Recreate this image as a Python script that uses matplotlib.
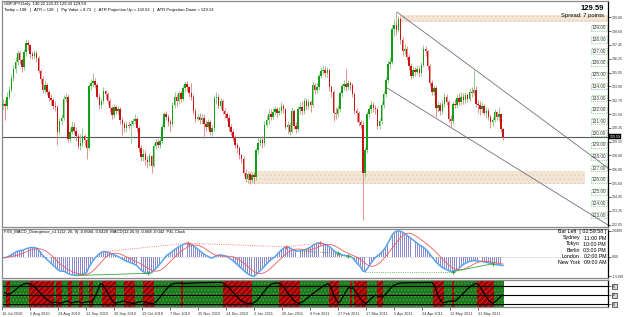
#GBPJPY daily chart in the style of the MT4 screenshot
import numpy as np
import pandas as pd
import matplotlib
matplotlib.use('Agg')
import matplotlib.pyplot as plt
import matplotlib.transforms as mtrans
from matplotlib.patches import Rectangle

plt.rcParams['font.family'] = 'Liberation Sans'
plt.rcParams['hatch.linewidth'] = 0.4

#daily bars (16 Jul 2010 .. 8 Jun 2011)
close = [132.4, 132.2, 133.0, 133.6, 134.6, 135.4, 136.0, 136.7, 136.1, 135.5,
         136.8, 137.6, 137.4, 136.6, 136.5, 136.7, 136.3, 135.2, 134.5, 133.6,
         134.0, 133.4, 132.9, 132.7, 132.2, 132.1, 130.0, 130.9, 131.2, 132.8,
         133.0, 129.4, 130.0, 130.4, 130.1, 129.6, 128.8, 129.0, 129.6, 129.3,
         128.6, 133.9, 134.2, 134.3, 134.0, 133.0, 132.3, 132.6, 133.5, 133.2,
         132.6, 132.0, 131.4, 132.1, 131.8, 131.9, 131.0, 130.7, 130.3, 130.6,
         130.5, 130.7, 130.9, 131.1, 130.3, 128.6, 127.8, 128.1, 127.6, 127.4,
         127.9, 127.1, 128.8, 129.1, 128.9, 129.2, 130.4, 131.5, 131.3, 130.8,
         130.7, 132.3, 133.0, 132.6, 133.3, 132.8, 133.7, 134.1, 133.8, 133.3,
         133.0, 131.8, 131.1, 131.3, 131.0, 131.2, 130.7, 130.4, 130.8, 130.0,
         130.3, 132.9, 133.0, 132.2, 132.6, 131.8, 131.5, 131.2, 130.4, 130.0,
         129.5, 128.9, 128.6, 128.0, 127.7, 126.5, 126.0, 126.4, 125.9, 126.3,
         126.1, 128.4, 129.0, 129.3, 129.0, 130.6, 131.0, 131.5, 131.3, 131.7,
         131.9, 131.6, 131.8, 132.2, 131.9, 130.4, 130.6, 130.0, 131.8, 130.5,
         130.2, 131.9, 132.1, 131.8, 132.6, 132.2, 132.5, 132.3, 134.0, 133.6,
         133.8, 134.8, 135.2, 135.3, 135.0, 135.3, 133.8, 133.4, 131.6, 131.5,
         131.9, 133.3, 133.9, 134.1, 133.8, 134.2, 134.0, 133.2, 131.8, 131.6,
         130.8, 130.6, 126.5, 128.4, 131.5, 131.9, 132.3, 132.0, 131.9, 130.5,
         130.9, 132.3, 133.2, 134.4, 135.8, 136.0, 138.8, 139.1, 138.7, 139.6,
         137.8, 136.9, 137.1, 136.4, 135.6, 134.8, 135.3, 135.1, 135.4, 135.0,
         135.7, 137.1, 136.9, 135.6, 134.2, 133.4, 133.7, 132.0, 132.3, 131.8,
         132.4, 133.0, 132.5, 131.1, 130.9, 132.4, 132.3, 132.9, 132.5, 133.0,
         132.7, 133.1, 132.8, 133.4, 133.3, 133.6, 132.4, 132.3, 131.9, 132.2,
         131.6, 131.8, 131.3, 130.8, 131.0, 131.7, 131.3, 131.5, 130.2, 129.59]
high = [132.8, 132.7, 133.4, 133.9, 134.9, 135.7, 136.4, 137.0, 136.9, 136.3,
        137.1, 137.9, 137.8, 137.5, 136.9, 137.0, 136.9, 136.5, 135.4, 134.8,
        134.4, 134.2, 133.6, 133.2, 132.9, 132.6, 132.3, 131.2, 131.5, 133.1,
        133.3, 133.2, 130.3, 130.9, 130.8, 130.4, 129.9, 129.8, 130.3, 129.8,
        129.5, 134.1, 134.5, 135.0, 134.6, 134.2, 133.3, 132.9, 133.8, 133.6,
        133.4, 132.9, 132.2, 132.4, 132.3, 132.2, 132.1, 131.3, 130.9, 130.9,
        130.9, 131.0, 131.2, 131.5, 131.3, 130.5, 128.9, 128.5, 128.4, 127.9,
        128.2, 128.0, 129.0, 129.4, 129.4, 129.5, 130.7, 131.7, 131.8, 131.5,
        131.1, 132.5, 133.4, 133.2, 133.5, 133.5, 134.0, 134.3, 134.3, 133.9,
        134.2, 133.2, 132.0, 131.6, 131.6, 131.5, 131.5, 131.0, 131.1, 131.0,
        130.6, 133.1, 133.4, 133.2, 132.9, 132.8, 132.0, 131.7, 131.4, 130.7,
        130.2, 129.7, 129.0, 128.8, 128.2, 127.9, 126.8, 126.6, 126.6, 126.5,
        126.6, 128.6, 129.5, 129.6, 129.6, 130.9, 131.4, 131.9, 131.9, 132.0,
        132.2, 132.1, 132.1, 132.5, 132.4, 132.0, 130.9, 130.8, 132.1, 131.9,
        130.8, 132.2, 132.5, 132.6, 132.9, 132.9, 132.8, 132.7, 134.3, 134.2,
        134.2, 135.0, 135.5, 135.6, 135.6, 135.5, 135.4, 134.0, 133.6, 132.1,
        132.3, 133.5, 134.2, 134.4, 135.4, 134.4, 134.3, 134.2, 133.4, 132.0,
        131.8, 131.0, 130.9, 128.7, 131.8, 132.2, 132.6, 132.5, 132.3, 132.1,
        131.2, 132.6, 133.5, 134.7, 136.1, 136.4, 139.1, 139.6, 140.2, 139.9,
        139.8, 138.1, 137.5, 137.3, 136.6, 135.9, 135.6, 135.5, 135.7, 135.6,
        136.0, 137.4, 137.3, 137.0, 135.8, 134.4, 134.0, 133.9, 132.6, 132.5,
        132.7, 133.3, 133.2, 132.7, 131.4, 132.6, 132.8, 133.2, 133.3, 133.4,
        133.3, 133.4, 133.3, 133.7, 133.8, 135.3, 133.9, 132.7, 132.6, 132.5,
        132.4, 132.1, 132.0, 131.5, 131.3, 131.9, 131.8, 132.1, 131.6, 130.33]
low = [131.9, 131.0, 131.9, 132.8, 133.4, 134.3, 135.0, 135.7, 135.8, 135.1,
       135.3, 136.5, 137.0, 136.3, 136.2, 136.3, 136.0, 135.0, 134.1, 133.3,
       133.3, 133.1, 132.6, 132.3, 131.9, 131.8, 128.9, 129.8, 130.6, 131.0,
       132.5, 129.1, 129.1, 129.8, 129.8, 129.2, 128.5, 128.4, 128.7, 128.8,
       127.7, 128.4, 133.6, 133.8, 133.7, 132.8, 131.9, 132.0, 132.4, 132.8,
       132.3, 131.7, 131.1, 131.2, 131.5, 131.5, 130.7, 129.7, 130.0, 130.0,
       130.2, 129.0, 130.5, 130.7, 130.0, 128.3, 127.5, 127.5, 127.2, 126.9,
       127.1, 126.5, 127.0, 128.5, 128.6, 128.6, 129.0, 130.2, 131.0, 130.5,
       130.0, 130.5, 132.0, 132.2, 132.4, 132.5, 132.6, 133.4, 133.5, 133.0,
       132.7, 131.5, 130.8, 130.9, 130.7, 130.7, 129.5, 130.1, 130.2, 129.7,
       129.6, 130.1, 132.4, 132.0, 131.9, 131.5, 131.2, 130.9, 130.1, 129.7,
       129.2, 128.6, 128.2, 127.7, 127.3, 126.2, 125.7, 125.6, 125.5, 125.7,
       125.6, 125.9, 128.1, 128.8, 128.6, 128.8, 130.4, 130.7, 131.0, 131.1,
       131.4, 131.3, 131.4, 131.6, 131.6, 130.2, 129.8, 129.7, 129.9, 130.2,
       129.9, 130.0, 131.5, 131.4, 131.5, 131.9, 131.9, 131.7, 132.1, 133.2,
       133.3, 133.6, 134.6, 134.9, 134.7, 134.7, 133.5, 133.0, 130.9, 131.1,
       131.3, 131.7, 133.0, 133.6, 133.5, 133.6, 133.6, 133.0, 131.5, 130.8,
       130.5, 130.2, 122.45, 126.1, 128.2, 131.2, 131.6, 131.7, 131.5, 130.2,
       130.2, 130.7, 132.0, 133.0, 134.2, 135.4, 135.8, 138.2, 138.3, 138.5,
       137.5, 136.5, 136.6, 136.1, 135.3, 134.5, 134.6, 134.8, 134.9, 134.7,
       134.8, 135.5, 136.5, 135.3, 133.9, 133.1, 133.1, 131.3, 131.7, 131.4,
       131.5, 132.1, 132.3, 130.8, 130.4, 130.7, 132.0, 132.0, 132.3, 132.3,
       132.4, 132.4, 132.5, 132.6, 133.0, 133.1, 132.1, 131.6, 131.4, 131.6,
       131.4, 131.2, 131.0, 130.3, 130.5, 130.8, 131.0, 130.9, 130.0, 129.33]
first_open = 132.3

#macd main line
macd = [-0.05, -0.05, 0.0, 0.08, 0.18, 0.28, 0.38, 0.46, 0.50, 0.52,
        0.56, 0.64, 0.70, 0.74, 0.75, 0.74, 0.70, 0.55, 0.35, 0.12,
        -0.05, -0.2, -0.35, -0.5, -0.65, -0.8, -0.98, -1.08, -1.12, -1.12,
        -1.18, -1.3, -1.36, -1.40, -1.43, -1.45, -1.44, -1.40, -1.34, -1.27,
        -1.22, -0.85, -0.55, -0.3, -0.08, 0.1, 0.25, 0.36, 0.42, 0.42,
        0.38, 0.32, 0.25, 0.18, 0.12, 0.04, -0.05, -0.15, -0.25, -0.33,
        -0.40, -0.46, -0.52, -0.58, -0.68, -0.85, -1.02, -1.15, -1.24, -1.28,
        -1.26, -1.22, -1.08, -0.92, -0.75, -0.55, -0.35, -0.12, 0.08, 0.22,
        0.32, 0.45, 0.58, 0.68, 0.80, 0.88, 0.96, 1.04, 1.08, 1.07,
        1.0, 0.88, 0.75, 0.62, 0.48, 0.36, 0.24, 0.12, 0.05, -0.05,
        -0.08, 0.02, 0.1, 0.14, 0.16, 0.14, 0.1, 0.04, -0.06, -0.18,
        -0.3, -0.45, -0.6, -0.75, -0.9, -1.05, -1.2, -1.32, -1.42, -1.49,
        -1.52, -1.38, -1.22, -1.06, -0.9, -0.72, -0.55, -0.38, -0.22, -0.1,
        0.02, 0.2, 0.38, 0.55, 0.68, 0.78, 0.80, 0.72, 0.62, 0.55,
        0.48, 0.46, 0.48, 0.52, 0.56, 0.62, 0.7, 0.78, 0.9, 1.0,
        1.08, 1.1, 1.1, 1.05, 0.98, 0.9, 0.8, 0.68, 0.52, 0.4,
        0.3, 0.22, 0.16, 0.12, 0.1, 0.08, 0.05, -0.05, -0.25, -0.45,
        -0.62, -0.8, -1.1, -1.15, -0.95, -0.7, -0.45, -0.25, -0.05, 0.1,
        0.22, 0.38, 0.55, 0.8, 1.1, 1.4, 1.72, 1.92, 2.03, 2.05,
        2.02, 1.95, 1.85, 1.72, 1.6, 1.45, 1.32, 1.2, 1.08, 0.95,
        0.85, 0.76, 0.62, 0.45, 0.22, 0.0, -0.18, -0.38, -0.55, -0.7,
        -0.82, -0.92, -1.0, -1.08, -1.12, -1.15, -1.12, -1.02, -0.88, -0.72,
        -0.6, -0.5, -0.42, -0.35, -0.3, -0.28, -0.3, -0.32, -0.33, -0.35,
        -0.38, -0.42, -0.46, -0.5, -0.53, -0.56, -0.6, -0.63, -0.65, -0.67]

#oscillator of the bottom window
osc = [58, 55, 52, 55, 60, 66, 72, 78, 83, 86,
       88, 89, 87, 84, 79, 73, 66, 58, 50, 43,
       37, 31, 27, 24, 26, 25, 24, 23, 25, 28,
       30, 27, 24, 25, 27, 28, 26, 24, 25, 27,
       28, 27, 26, 40, 55, 70, 88, 85, 75, 63,
       50, 38, 28, 23, 24, 26, 28, 30, 28, 26,
       24, 23, 22, 24, 26, 28, 29, 27, 25, 23,
       22, 21, 24, 30, 38, 47, 56, 65, 73, 80,
       86, 88, 89, 89.5, 90, 88, 88.5, 89, 89.3, 89.6,
       89.9, 90.2, 90.4, 90.6, 90.8, 91, 91.2, 91.3, 91.4, 91.5,
       91.6, 91.7, 91.8, 91.9, 92, 88, 84, 78, 71, 63,
       55, 47, 40, 34, 29, 25, 23, 22, 21, 23,
       26, 32, 40, 49, 58, 67, 75, 82, 87, 89,
       90, 90.5, 88, 82, 74, 65, 55, 46, 37, 30,
       25, 22, 24, 28, 33, 39, 45, 51, 56, 61,
       66, 71, 76, 81, 85, 88, 80, 65, 48, 33,
       24, 30, 42, 55, 66, 75, 72, 74, 65, 54,
       43, 33, 26, 22, 26, 33, 40, 46, 50, 47,
       44, 42, 48, 56, 64, 72, 79, 84, 87, 89,
       90, 90.3, 90.5, 90.6, 90.7, 90.8, 90.9, 91, 91.1, 91.2,
       91.3, 91.4, 91.5, 91.6, 91.7, 91.8, 80, 62, 45, 32,
       24, 25, 27, 29, 30, 28, 30, 36, 43, 50,
       57, 64, 71, 77, 82, 86, 89, 85, 76, 65,
       53, 42, 33, 26, 22, 27, 33, 40, 46, 50]

dates = ['16 Jul 2010', '5 Aug 2010', '24 Aug 2010', '12 Sep 2010', '30 Sep 2010',
         '19 Oct 2010', '7 Nov 2010', '25 Nov 2010', '14 Dec 2010', '2 Jan 2011',
         '20 Jan 2011', '8 Feb 2011', '27 Feb 2011', '17 Mar 2011', '5 Apr 2011',
         '24 Apr 2011', '12 May 2011', '31 May 2011']
price_ticks = [122.05, 123.25, 124.45, 125.60, 126.80, 128.00, 129.15, 130.35,
               131.50, 132.70, 133.90, 135.05, 136.25, 137.45, 138.60, 139.80]
levels = list(range(123, 140))
#zones: first bar, last bar, low, high
zone_top = [189.8, 289.2, 139.4, 140.0]
zone_bottom = [117.1, 278.2, 125.53, 126.64]
#channel lines (bar, price) anchors
chan_up = [(188.3, 140.23), (289.2, 126.9)]
chan_dn = [(183.6, 133.74), (289.2, 122.03)]
#macd divergence lines: bar1, val1, bar2, val2, colour, style
div_lines = [(35.9, -1.45, 69.5, -1.28, '#3aa83a', '-'),
             (48.0, 0.42, 88.5, 1.08, '#f06060', ':'),
             (88.5, 1.08, 135.5, 0.80, '#f06060', ':'),
             (135.5, 0.80, 151.5, 1.1, '#f06060', ':'),
             (142.0, 0.46, 160.0, 0.30, '#3aa83a', ':'),
             (160.0, 0.30, 165.0, 0.08, '#3aa83a', ':'),
             (173.0, -1.15, 215.0, -1.15, '#3aa83a', ':'),
             (215.0, -1.15, 234.0, -0.53, '#3aa83a', '-')]
clock_names = ['Sydney', 'Tokyo', 'Berlin', 'London', 'New York']
clock_times = ['11:00 PM', '10:00 PM', '03:00 PM', '02:00 PM', '09:00 AM']
osc_levels = [80, 50, 20]

n = len(close)
x = np.arange(n)
close = np.array(close)
high = np.array(high)
low = np.array(low)
osc = np.array(osc)
opn = np.r_[first_open, close[:-1]]

#signal line = 9 bar sma of the macd
macd = pd.Series(macd)
signal = macd.rolling(9, min_periods=1).mean()

W, H = 625, 317
fig = plt.figure(figsize=(W / 100, H / 100), dpi=100)
ax = fig.add_axes([2 / W, 1 - 227 / H, 606 / W, 226 / H])
ax2 = fig.add_axes([2 / W, 1 - 278 / H, 606 / W, 49 / H])
ax3 = fig.add_axes([2 / W, 1 - 307 / H, 606 / W, 27 / H])
for a in (ax, ax2, ax3):
    a.set_xlim(-0.48, 289.2)
    for sp in a.spines.values():
        sp.set_color('#8a8a8a')
        sp.set_linewidth(0.9)
    a.spines['right'].set_color('black')
    a.yaxis.tick_right()
    a.tick_params(axis='y', labelsize=2.6, length=2, pad=1, width=0.5, colors='#333333')

#---- price window ----
ax.set_ylim(121.86, 141.17)
ax.set_xticks([])
ax.add_patch(Rectangle((zone_top[0], zone_top[2]), zone_top[1] - zone_top[0], zone_top[3] - zone_top[2],
                       fc='#f3e6d6', ec='#e2c9ab', hatch='....', lw=0, zorder=0))
ax.add_patch(Rectangle((zone_bottom[0], zone_bottom[2]), zone_bottom[1] - zone_bottom[0],
                       zone_bottom[3] - zone_bottom[2],
                       fc='#f3e6d6', ec='#e2c9ab', hatch='....', lw=0, zorder=0))

up = close >= opn
col = np.where(up, '#14a014', '#c81414')
wick = np.where(up, '#80c880', '#e08080')
ax.vlines(x, low, high, colors=wick, lw=0.6, zorder=2)
body = np.where(np.abs(close - opn) < 0.06, 0.06, close - opn)
ax.bar(x, body, bottom=opn, width=0.7, color=col, lw=0, zorder=3)

ax.axhline(close[-1], color='#5a5a5a', lw=0.8, zorder=1)
for ln in (chan_up, chan_dn):
    ax.plot([ln[0][0], ln[1][0]], [ln[0][1], ln[1][1]], color='#707080', lw=0.6, zorder=1)

ax.set_yticks(price_ticks)
ax.set_yticklabels(['%.2f' % v for v in price_ticks])
for lv in levels:
    ax.text(0.997, lv - 0.12, '%.2f' % lv, transform=mtrans.blended_transform_factory(ax.transAxes, ax.transData),
            ha='right', va='center', fontsize=3.4, color='#404040',
            bbox=dict(boxstyle='square,pad=0.12', fc='none', ec='#3caa3c', ls=':', lw=0.5))
ax.text(1.003, close[-1], '%.2f' % close[-1], transform=mtrans.blended_transform_factory(ax.transAxes, ax.transData),
        ha='left', va='center', fontsize=2.6, color='white',
        bbox=dict(boxstyle='square,pad=0.1', fc='black', ec='black', lw=0.3))

ax.text(0.004, 0.996, 'GBPJPY,Daily  130.22 130.33 129.33 129.59', transform=ax.transAxes,
        fontsize=3, va='top', ha='left')
ax.text(0.004, 0.968, 'Today = 108   |   ATR = 128   |   Pip Value = 8.73   |   ATR Projection Up = 130.53'
        '   |   ATR Projection Down = 129.13', transform=ax.transAxes, fontsize=3, va='top', ha='left')
fig.text(604 / W, 1 - 8 / H, '129.59', ha='right', va='center', fontsize=5.5, weight='bold')
fig.text(604 / W, 1 - 15.5 / H, 'Spread: 7 points', ha='right', va='center', fontsize=4.2)

#---- macd window ----
ax2.set_ylim(-1.65, 2.2)
ax2.set_xticks([])
ax2.axhline(0, color='#a0a0a0', ls=':', lw=0.5)
ax2.bar(x, macd, width=0.45, color='#8a8ad0', lw=0)
ax2.plot(x, macd, color='#5aa5ee', lw=1.1)
ax2.plot(x, signal, color='#f05a5a', lw=0.6)
for b1, v1, b2, v2, c, st in div_lines:
    ax2.plot([b1, b2], [v1, v2], color=c, ls=st, lw=0.6)
    ax2.plot(b2, v2, marker='+', color=c, ms=3, mew=0.8)
ax2.set_yticks([-1.5199, 0, 2.0499])
ax2.set_yticklabels(['-1.5199', '0.00', '2.0499'])
ax2.text(0.004, 0.97, 'FXS_MACD_Divergence_v1.1(12, 26, 9) -0.6684 -0.0420  MACD(12,26,9) -0.668 -0.042  P4L Clock',
         transform=ax2.transAxes, fontsize=3, va='top', ha='left')
fig.text(606 / W, 1 - 232 / H, 'Bar Left  [ 02:59:58 ]', ha='right', va='center', fontsize=3.8)
for j in range(len(clock_names)):
    yy = 1 - (238 + 6 * j) / H
    fig.text(580 / W, yy, clock_names[j], ha='right', va='center', fontsize=3.8)
    fig.text(606 / W, yy, clock_times[j], ha='right', va='center', fontsize=3.8)

#---- oscillator window: green while rising, red while falling ----
ax3.set_ylim(10, 100)
rising = np.r_[True, np.diff(osc) >= 0]
start = 0
for i in range(1, n + 1):
    if i == n or rising[i] != rising[start]:
        if rising[start]:
            fc, ec, ht = '#1c7a1c', '#55b055', '.....'
        else:
            fc, ec, ht = '#a00000', '#e04848', '//////'
        ax3.add_patch(Rectangle((start - 0.5, 10), i - start, 90, fc=fc, ec=ec, hatch=ht, lw=0, zorder=0))
        start = i
for lv in osc_levels:
    ax3.axhline(lv, color='black', lw=0.8, zorder=1)
ax3.plot(x, osc, color='black', lw=0.9, zorder=2)
ax3.set_yticks(osc_levels)
ax3.set_yticklabels([str(v) for v in osc_levels])
for t in ax3.get_yticklabels():
    t.set_bbox(dict(boxstyle='square,pad=0.1', fc='#d8d8d8', ec='black', lw=0.4))
ax3.set_xticks([-1.2 + 13.42 * j for j in range(len(dates))])
ax3.set_xticklabels(dates, fontsize=2.8, ha='left')
ax3.tick_params(axis='x', length=2, pad=1.5, width=0.5, colors='#333333')

fig.savefig('out.png', dpi=100)
